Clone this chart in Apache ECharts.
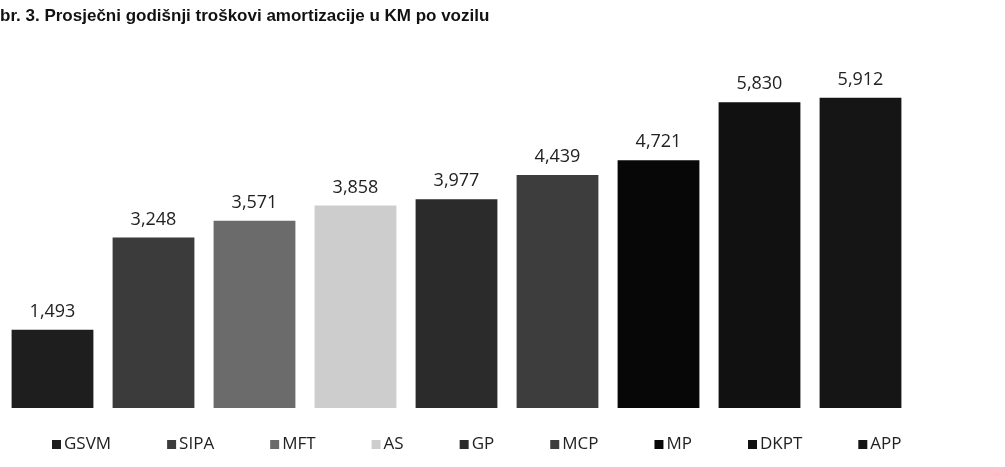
<!DOCTYPE html>
<html>
<head>
<meta charset="utf-8">
<script src="https://cdn.jsdelivr.net/npm/echarts@6/dist/echarts.min.js"></script>
<style>
html, body { margin: 0; padding: 0; background: #fff; }
#chart { width: 1005px; height: 467px; }
</style>
</head>
<body>
<div id="chart"></div>
<script>
// average yearly depreciation per vehicle (KM)
var names = ['GSVM', 'SIPA', 'MFT', 'AS', 'GP', 'MCP', 'MP', 'DKPT', 'APP'];
var values = [1493, 3248, 3571, 3858, 3977, 4439, 4721, 5830, 5912];
var colors = ['#1e1e1e', '#3b3b3b', '#6b6b6b', '#cdcdcd', '#2b2b2b', '#3d3d3d', '#070707', '#111111', '#151515'];

var chart = echarts.init(document.getElementById('chart'));

// one series per vehicle so the legend lists each, stacked so each sits alone in its slot
var series = names.map(function(name, i) {
    var data = names.map(function(n, j) {
        return j === i ? values[i] : '-';
    });
    return {
        name: name,
        type: 'bar',
        stack: 'all',
        barWidth: '81%',
        data: data,
        itemStyle: { color: colors[i] },
        label: {
            show: true,
            position: 'top',
            distance: 9,
            fontFamily: 'Open Sans',
            fontSize: 18,
            color: '#222',
            formatter: function(p) {
                return p.value.toLocaleString('en-US');
            }
        }
    };
});

chart.setOption({
    animation: false,
    title: {
        text: 'br. 3. Prosječni godišnji troškovi amortizacije u KM po vozilu',
        left: -5,
        top: 3,
        textStyle: {
            fontFamily: 'Liberation Sans',
            fontWeight: 'bold',
            fontSize: 17,
            color: '#111'
        }
    },
    legend: {
        data: names,
        left: 47,
        top: 431,
        itemWidth: 9,
        itemHeight: 9,
        itemGap: 56,
        icon: 'rect',
        textStyle: {
            fontFamily: 'Open Sans',
            fontSize: 17,
            color: '#222',
            padding: [0, 0, 0, -2]
        }
    },
    grid: {
        left: 2,
        right: 94,
        top: 67,
        bottom: 59
    },
    xAxis: {
        type: 'category',
        data: names,
        axisLine: { show: false },
        axisTick: { show: false },
        axisLabel: { show: false }
    },
    yAxis: {
        type: 'value',
        min: 0,
        max: 6500,
        show: false,
        splitLine: { show: false }
    },
    series: series
});
</script>
</body>
</html>
